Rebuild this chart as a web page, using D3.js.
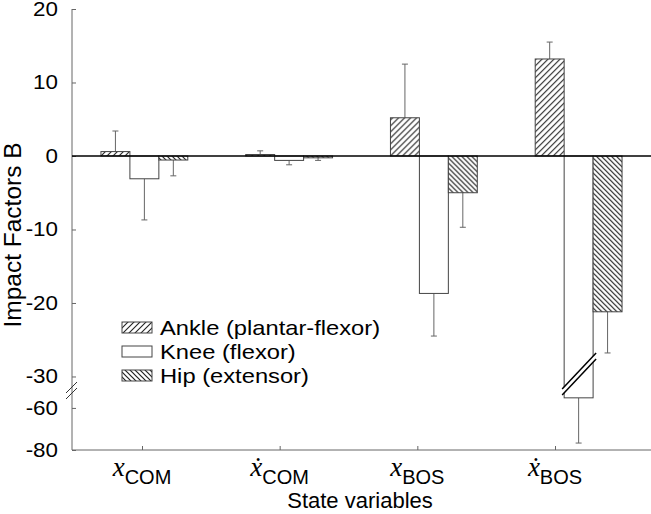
<!DOCTYPE html>
<html lang="en">
<head>
<meta charset="utf-8">
<script src="https://cdn.jsdelivr.net/npm/d3@7/dist/d3.min.js"></script>
<style>
  body { margin: 0; background: #fff; }
  text { font-family: "Liberation Sans", Arial, sans-serif; fill: #000; }
</style>
</head>
<body>
<script>
"use strict";

// state variables on the x axis (base letter, dotted?, subscript)
const categories = ["xCOM", "xdotCOM", "xBOS", "xdotBOS"];
const catBase = ["x", "\u1E8B", "x", "\u1E8B"];
const catSub = ["COM", "COM", "BOS", "BOS"];

// impact factors (mean) and error bar size
const ankle = [0.6, 0.2, 5.2, 13.2];
const ankleErr = [2.8, 0.5, 7.3, 2.3];
const knee = [-3.1, -0.6, -18.7, -55.2];
const kneeErr = [5.6, 0.6, 5.8, 21.5];
const hip = [-0.55, -0.25, -5.0, -21.2];
const hipErr = [2.15, 0.35, 4.7, 5.6];

const seriesNames = ["ankle", "knee", "hip"];
const legendLabels = ["Ankle (plantar-flexor)", "Knee (flexor)", "Hip (extensor)"];
const yTicks = [20, 10, 0, -10, -20, -30, -60, -80];

const W = 651, H = 514;
const svg = d3.select("body").append("svg").attr("width", W).attr("height", H);

// hatch patterns
const defs = svg.append("defs");
const pa = defs.append("pattern").attr("id", "hatchA")
  .attr("patternUnits", "userSpaceOnUse").attr("width", 6).attr("height", 6);
pa.append("rect").attr("width", 6).attr("height", 6).attr("fill", "#fff");
pa.append("path").attr("d", "M-1,1 l2,-2 M0,6 l6,-6 M5,7 l2,-2")
  .attr("stroke", "#222").attr("stroke-width", 1.1);
const ph = defs.append("pattern").attr("id", "hatchH")
  .attr("patternUnits", "userSpaceOnUse").attr("width", 5).attr("height", 5);
ph.append("rect").attr("width", 5).attr("height", 5).attr("fill", "#fff");
ph.append("path").attr("d", "M0,0 L5,5 M-1,4 L1,6 M4,-1 L6,1")
  .attr("stroke", "#222").attr("stroke-width", 1.2);
const fills = {ankle: "url(#hatchA)", knee: "#fff", hip: "url(#hatchH)"};

// broken y axis: lower segment -80..-51, upper segment -31.5..20
const y = d3.scaleLinear()
  .domain([-80, -51, -31.5, 20])
  .range([450, 389, 387.5, 9]);

const x0 = d3.scaleBand().domain(categories).range([72, 651])
  .paddingInner(0.4).paddingOuter(0.2);
const x1 = d3.scaleBand().domain(seriesNames).range([0, x0.bandwidth()]);
const xLab = d3.scalePoint().domain(categories).range([142, 555]);

const rows = categories.map((c, i) => ({
  cat: c,
  vals: [
    {key: "ankle", v: ankle[i], e: ankleErr[i]},
    {key: "knee", v: knee[i], e: kneeErr[i]},
    {key: "hip", v: hip[i], e: hipErr[i]}
  ]
}));

// bars
const g = svg.append("g");
const groups = g.selectAll("g.grp").data(rows).join("g")
  .attr("transform", d => `translate(${x0(d.cat)},0)`);

// error bars (behind bars)
groups.selectAll("g.err").data(d => d.vals).join("g").each(function(d) {
  const cx = x1(d.key) + x1.bandwidth() / 2;
  const end = d.v >= 0 ? d.v + d.e : d.v - d.e;
  const s = d3.select(this);
  s.append("line").attr("x1", cx).attr("x2", cx)
    .attr("y1", y(d.v)).attr("y2", y(end))
    .attr("stroke", "#666").attr("stroke-width", 1);
  s.append("line").attr("x1", cx - 3).attr("x2", cx + 3)
    .attr("y1", y(end)).attr("y2", y(end))
    .attr("stroke", "#666").attr("stroke-width", 1);
});

groups.selectAll("rect").data(d => d.vals).join("rect")
  .attr("x", d => x1(d.key))
  .attr("width", x1.bandwidth())
  .attr("y", d => y(Math.max(0, d.v)))
  .attr("height", d => Math.abs(y(d.v) - y(0)))
  .attr("fill", d => fills[d.key])
  .attr("stroke", "#444").attr("stroke-width", 1);

// break mark on the long knee bar
const kb = x0("xdotBOS") + x1("knee");
const kw = x1.bandwidth();
svg.append("path")
  .attr("d", `M${kb - 2},${389} L${kb + kw + 3},${353} L${kb + kw + 3},${359} L${kb - 2},${395} Z`)
  .attr("fill", "#fff");
svg.append("line").attr("x1", kb - 2).attr("y1", 389).attr("x2", kb + kw + 3).attr("y2", 353)
  .attr("stroke", "#000").attr("stroke-width", 1.5);
svg.append("line").attr("x1", kb - 2).attr("y1", 395).attr("x2", kb + kw + 3).attr("y2", 359)
  .attr("stroke", "#000").attr("stroke-width", 1.5);

// axes
const yAxis = d3.axisLeft(y).tickValues(yTicks).tickSize(-4).tickPadding(10)
  .tickFormat(d => String(d));
const ya = svg.append("g").attr("transform", "translate(72,0)").call(yAxis);
ya.select(".domain").remove();
ya.selectAll(".tick line").attr("stroke", "#666");
// tick labels are a bit wide in the original
ya.selectAll(".tick text").attr("font-size", 20)
  .attr("x", -14 / 1.12).attr("transform", "scale(1.12,1)")
  .attr("font-family", "Liberation Sans, Arial, sans-serif").attr("fill", "#000");
svg.append("line").attr("x1", 72).attr("x2", 72).attr("y1", y(20)).attr("y2", y(-80))
  .attr("stroke", "#666");
// axis break slashes
[0, 6].forEach(o => {
  svg.append("line").attr("x1", 66).attr("y1", 393 + o).attr("x2", 77).attr("y2", 382 + o)
    .attr("stroke", "#333").attr("stroke-width", 1);
});

const xAxis = d3.axisBottom(xLab).tickSize(-4).tickFormat("");
const xa = svg.append("g").attr("transform", `translate(0,${y(-80)})`).call(xAxis);
xa.select(".domain").remove();
xa.selectAll(".tick line").attr("stroke", "#666");
svg.append("line").attr("x1", 72).attr("x2", W).attr("y1", y(-80)).attr("y2", y(-80))
  .attr("stroke", "#666");

// zero line
svg.append("line").attr("x1", 72).attr("x2", W).attr("y1", y(0)).attr("y2", y(0))
  .attr("stroke", "#000").attr("stroke-width", 1.6);

// x tick labels
categories.forEach((c, i) => {
  const t = svg.append("text").attr("x", xLab(c)).attr("y", 476).attr("text-anchor", "middle");
  t.append("tspan").text(catBase[i])
    .attr("font-family", "Liberation Serif, 'DejaVu Serif', serif")
    .attr("font-style", "italic").attr("font-size", 27);
  t.append("tspan").text(catSub[i]).attr("dy", 8).attr("font-size", 20);
});

svg.append("text").attr("x", 360).attr("y", 508).attr("text-anchor", "middle")
  .attr("font-size", 22).text("State variables");
svg.append("text").attr("transform", "translate(21,235) rotate(-90)")
  .attr("text-anchor", "middle").attr("font-size", 24.5).text("Impact Factors B");

// legend (text slightly widened like the original)
const lg = svg.append("g").attr("transform", "translate(122,322)");
seriesNames.forEach((k, i) => {
  lg.append("rect").attr("x", 0).attr("y", i * 24).attr("width", 30).attr("height", 11)
    .attr("fill", fills[k]).attr("stroke", "#444");
  lg.append("text").attr("transform", `translate(38,${i * 24 + 13}) scale(1.13,1)`)
    .attr("font-size", 21).text(legendLabels[i]);
});
</script>
</body>
</html>
